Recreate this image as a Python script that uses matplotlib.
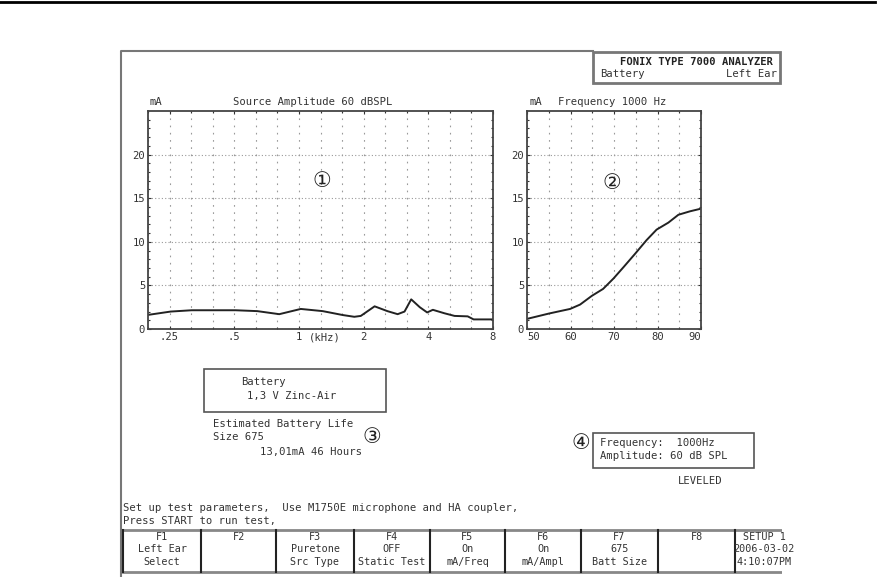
"""
Fonix 7000 battery test screen
mA vs frequency and mA vs source amplitude
"""

import matplotlib
matplotlib.use('Agg')
import matplotlib.pyplot as plt
from matplotlib.patches import Rectangle
import numpy as np

plt.rcParams.update({
    'font.family': ['DejaVu Sans Mono'],
    'font.size': 7.6,
    'text.color': '#333333',
    'xtick.color': '#333333',
    'ytick.color': '#333333',
})

INK = '#333333'
GRID = '#9a9a9a'

# mA vs frequency (kHz)
freq_khz = [0.2, 0.253, 0.317, 0.507, 0.64, 0.81, 1.02, 1.29, 1.6, 1.81, 1.94,
            2.25, 2.58, 2.88, 3.1, 3.33, 3.65, 3.95, 4.2, 4.76, 5.3, 6.1, 6.5, 8.0]
freq_ma = [1.63, 2.0, 2.15, 2.15, 2.05, 1.7, 2.3, 2.05, 1.6, 1.4, 1.5,
           2.6, 2.05, 1.7, 2.0, 3.4, 2.5, 1.9, 2.2, 1.8, 1.5, 1.45, 1.1, 1.1]
freq_ticks = [0.25, 0.5, 1, 2, 4, 8]
freq_ticklabels = ['.25', '.5', '1', '2', '4', '8']

# mA vs source amplitude (dB SPL)
ampl_db = [50, 55.1, 59.9, 62.2, 64.9, 67.5, 69.9, 72.2, 74.8, 77.5, 79.8,
           82.5, 84.8, 87.5, 90]
ampl_ma = [1.16, 1.78, 2.3, 2.8, 3.8, 4.6, 5.8, 7.1, 8.6, 10.2, 11.4,
           12.2, 13.1, 13.5, 13.8]
ampl_ticks = [50, 60, 70, 80, 90]

ma_ticks = [0, 5, 10, 15, 20]

# soft keys along the bottom
key_names = ['F1', 'F2', 'F3', 'F4', 'F5', 'F6', 'F7', 'F8', 'SETUP 1']
key_values = ['Left Ear', '', 'Puretone', 'OFF', 'On', 'On', '675', '', '2006-03-02']
key_funcs = ['Select', '', 'Src Type', 'Static Test', 'mA/Freq', 'mA/Ampl',
             'Batt Size', '', '4:10:07PM']
key_edges = [123, 201, 276, 354, 430, 505, 581, 658, 735, 793]

W, H = 889, 577
CROP_X = 781  # the screen capture is cut off here
fig = plt.figure(figsize=(W / 100, H / 100), dpi=100)


def px_axes(x0, y0, x1, y1):
    return fig.add_axes([x0 / W, 1 - y1 / H, (x1 - x0) / W, (y1 - y0) / H])


def style_plot(ax):
    ax.patch.set_alpha(0)
    for s in ax.spines.values():
        s.set_color('#444444')
        s.set_linewidth(1.3)
    ax.set_ylim(0, 25)
    ax.set_yticks(ma_ticks)
    ax.set_yticks(np.arange(0, 25, 1), minor=True)
    ax.tick_params(which='both', direction='in', length=2.2, width=0.8, pad=2,
                   labelsize=7.6, colors=INK, top=True, right=True)
    ax.tick_params(which='minor', length=1.5)
    ax.grid(True, which='major', axis='y', color=GRID, ls=(0, (1, 2)), lw=0.8)
    ax.grid(True, which='both', axis='x', color=GRID, ls=(0, (1.5, 5)), lw=0.8)


# background layer in pixel coordinates
bg = fig.add_axes([0, 0, 1, 1])
bg.set_xlim(0, W)
bg.set_ylim(H, 0)
bg.axis('off')

# outer screen frame
bg.plot([121, 121, 593], [577, 51, 51], color='#777777', lw=1.5)
bg.add_patch(Rectangle((593, 52), 187, 31, fill=False, ec='#777777', lw=2))
bg.text(697, 62, 'FONIX TYPE 7000 ANALYZER', ha='center', va='center',
        fontweight='bold', color='#222222')
bg.text(600, 74, 'Battery', ha='left', va='center')
bg.text(777, 74, 'Left Ear', ha='right', va='center')

# plot headings
bg.text(150, 102, 'mA', ha='left', va='center')
bg.text(313, 102, 'Source Amplitude 60 dBSPL', ha='center', va='center')
bg.text(530, 102, 'mA', ha='left', va='center')
bg.text(612, 102, 'Frequency 1000 Hz', ha='center', va='center')
bg.text(325, 338, '(kHz)', ha='center', va='center')

# battery info
bg.add_patch(Rectangle((204, 369), 182, 43, fill=False, ec='#555555', lw=1.2))
bg.text(241, 382, 'Battery', ha='left', va='center')
bg.text(247, 396, '1,3 V Zinc-Air', ha='left', va='center')
bg.text(213, 424, 'Estimated Battery Life', ha='left', va='center')
bg.text(213, 437, 'Size 675', ha='left', va='center')
bg.text(260, 452, '13,01mA 46 Hours', ha='left', va='center')

# signal info
bg.add_patch(Rectangle((593, 433), 161, 35, fill=False, ec='#555555', lw=1.2))
bg.text(600, 443, 'Frequency:  1000Hz', ha='left', va='center')
bg.text(600, 456, 'Amplitude: 60 dB SPL', ha='left', va='center')
bg.text(700, 481, 'LEVELED', ha='center', va='center')

# circled callouts
for label, (cx, cy) in zip(['\u2460', '\u2461', '\u2462', '\u2463'],
                           [(322, 181), (612, 183), (372, 437), (581, 443)]):
    bg.text(cx, cy, label, ha='center', va='center', fontsize=15,
            family='DejaVu Sans', color='#222222', zorder=5)

# status messages
bg.text(123, 508, 'Set up test parameters,  Use M1750E microphone and HA coupler,',
        ha='left', va='center')
bg.text(123, 521, 'Press START to run test,', ha='left', va='center')

# soft key row
bg.plot([key_edges[0], CROP_X], [530, 530], color='#888888', lw=2)
bg.plot([key_edges[0], CROP_X], [572, 572], color='#888888', lw=2)
for xe in key_edges[:-1]:
    bg.plot([xe, xe], [530, 572], color='#222222', lw=1.5)
for i, (n, v, f) in enumerate(zip(key_names, key_values, key_funcs)):
    cx = (key_edges[i] + key_edges[i + 1]) / 2
    bg.text(cx, 537, n, ha='center', va='center', fontsize=7.3)
    bg.text(cx, 549, v, ha='center', va='center', fontsize=7.3)
    bg.text(cx, 562, f, ha='center', va='center', fontsize=7.3)

# clip the screen contents at the capture edge
crop = Rectangle((0, 0), CROP_X + 1, H, transform=bg.transData)
for art in bg.texts + bg.lines + bg.patches:
    art.set_clip_path(crop)

# page rule above the capture (not part of the screen)
bg.plot([0, 875], [1.5, 1.5], color='black', lw=2)

# mA vs frequency
ax1 = px_axes(148, 111, 493, 329)
ax1.set_xscale('log')
ax1.set_xlim(0.2, 8)
ax1.set_xticks(freq_ticks)
ax1.set_xticklabels(freq_ticklabels)
ax1.set_xticks(0.25 * 2 ** (np.arange(-1, 16) / 3), minor=True)
ax1.xaxis.set_minor_formatter(plt.NullFormatter())
style_plot(ax1)
ax1.plot(freq_khz, freq_ma, color='#222222', lw=1.4)

# mA vs amplitude
ax2 = px_axes(527, 111, 701, 329)
ax2.set_xlim(50, 90)
ax2.set_xticks(ampl_ticks)
ax2.set_xticks(np.arange(50, 91, 5), minor=True)
style_plot(ax2)
xl = ax2.get_xticklabels()
xl[0].set_horizontalalignment('left')
xl[-1].set_horizontalalignment('right')
ax2.plot(ampl_db, ampl_ma, color='#222222', lw=1.4)

# keep the callouts above the plot panels
bg.set_zorder(3)
bg.patch.set_alpha(0)

fig.savefig('out.png', dpi=100)
plt.close(fig)
